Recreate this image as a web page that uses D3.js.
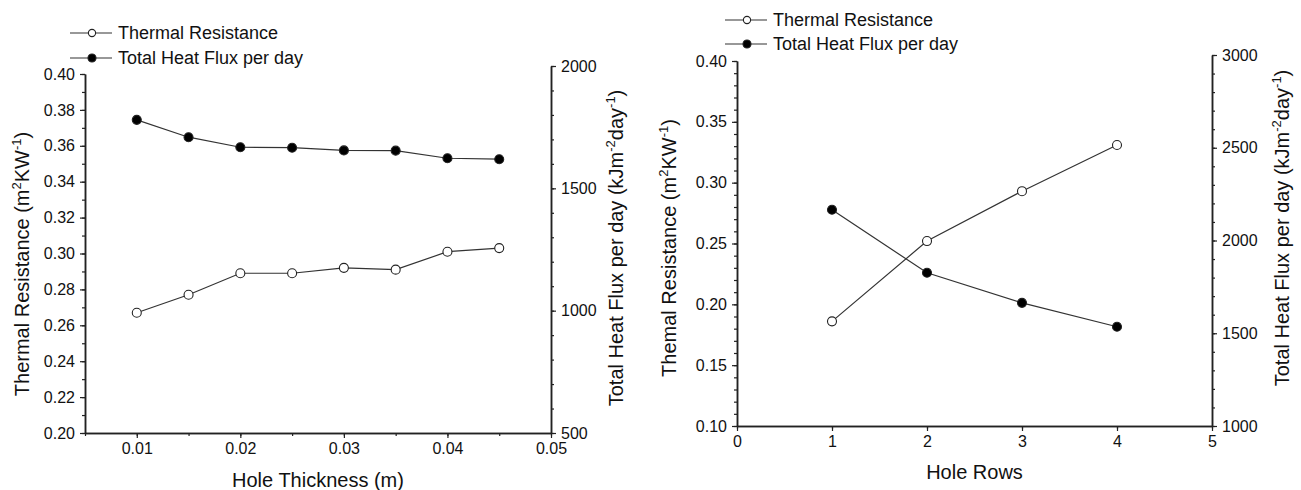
<!DOCTYPE html>
<html>
<head>
<meta charset="utf-8">
<script src="https://cdn.jsdelivr.net/npm/d3@7"></script>
<style>
body { margin: 0; background: #fff; }
svg text { font-family: "Liberation Sans", Arial, sans-serif; fill: #111; }
</style>
</head>
<body>
<svg id="chart" width="1301" height="490"></svg>
<script>
// panel A: hole thickness
let thicknessX = [0.010, 0.015, 0.020, 0.025, 0.030, 0.035, 0.040, 0.045];
let thicknessResistance = [0.267, 0.277, 0.289, 0.289, 0.292, 0.291, 0.301, 0.303];
let thicknessHeatFlux = [1780, 1709, 1668, 1666, 1655, 1654, 1623, 1619];
let thicknessTicks = [0.01, 0.02, 0.03, 0.04, 0.05];
let resistanceTicksA = [0.20, 0.22, 0.24, 0.26, 0.28, 0.30, 0.32, 0.34, 0.36, 0.38, 0.40];
let fluxTicksA = [500, 1000, 1500, 2000];

// panel B: hole rows
let rowsX = [1, 2, 3, 4];
let rowsResistance = [0.186, 0.252, 0.293, 0.331];
let rowsHeatFlux = [2166, 1826, 1664, 1535];
let rowsTicks = [0, 1, 2, 3, 4, 5];
let resistanceTicksB = [0.10, 0.15, 0.20, 0.25, 0.30, 0.35, 0.40];
let fluxTicksB = [1000, 1500, 2000, 2500, 3000];

let legendLabels = ["Thermal Resistance", "Total Heat Flux per day"];

let svg = d3.select('#chart');

function styleAxis(sel) {
    sel.select('.domain').attr('stroke', '#222').attr('stroke-width', 1.5);
    sel.selectAll('.tick line').attr('stroke', '#222').attr('stroke-width', 1.2);
    sel.selectAll('.tick text')
        .attr('font-family', '"Liberation Sans", Arial, sans-serif')
        .attr('font-size', 16)
        .attr('fill', '#111');
}

function drawAxis(axisFn, scale, major, minor, fmt, transform) {
    svg.append('g')
        .attr('transform', transform)
        .call(axisFn(scale).tickValues(minor).tickSize(3).tickSizeOuter(0).tickFormat(''))
        .call(styleAxis);
    svg.append('g')
        .attr('transform', transform)
        .call(axisFn(scale).tickValues(major).tickSize(5).tickSizeOuter(0).tickPadding(5).tickFormat(d3.format(fmt)))
        .call(styleAxis);
}

function addTitle(x, y, parts) {
    let t = svg.append('text')
        .attr('transform', 'translate(' + x + ',' + y + ') rotate(-90)')
        .attr('text-anchor', 'middle')
        .attr('font-size', 20);
    parts.forEach(function(p) {
        if (p.sup) {
            t.append('tspan').attr('font-size', 13).attr('dy', -8).text(p.sup);
            t.append('tspan').attr('dy', 8).text(p.text);
        } else {
            t.append('tspan').text(p.text);
        }
    });
}

function drawPanel(p) {
    let x = d3.scaleLinear().domain(p.xDomain).range([p.left, p.right]);
    let yL = d3.scaleLinear().domain(p.yLDomain).range([p.bottom, p.topL]);
    let yR = d3.scaleLinear().domain(p.yRDomain).range([p.bottom, p.topR]);

    drawAxis(d3.axisLeft, yL, p.yLTicks, p.yLMinor, '.2f', 'translate(' + p.left + ',0)');
    drawAxis(d3.axisRight, yR, p.yRTicks, p.yRMinor, 'd', 'translate(' + p.right + ',0)');
    drawAxis(d3.axisBottom, x, p.xTicks, p.xMinor, p.xFmt, 'translate(0,' + p.bottom + ')');

    // x title
    svg.append('text')
        .attr('x', (p.left + p.right) / 2)
        .attr('y', p.xTitleY)
        .attr('text-anchor', 'middle')
        .attr('font-size', 20)
        .text(p.xTitle);

    addTitle(p.yLTitleX, p.yLTitleY, [
        {text: p.yLTitle + ' (m'}, {sup: '2', text: 'KW'}, {sup: '-1', text: ')'}
    ]);
    addTitle(p.yRTitleX, p.yRTitleY, [
        {text: 'Total Heat Flux per day (kJm'}, {sup: '-2', text: 'day'}, {sup: '-1', text: ')'}
    ]);

    let line = d3.line()
        .x(function(d) { return x(d[0]); })
        .y(function(d) { return d[1]; });

    let res = p.xs.map(function(v, i) { return [v, yL(p.resistance[i])]; });
    let flux = p.xs.map(function(v, i) { return [v, yR(p.flux[i])]; });

    [[res, '#fff'], [flux, '#000']].forEach(function(s) {
        svg.append('path')
            .attr('d', line(s[0]))
            .attr('fill', 'none')
            .attr('stroke', '#333')
            .attr('stroke-width', 1.2);
        svg.append('g').selectAll('circle')
            .data(s[0])
            .enter()
            .append('circle')
            .attr('cx', function(d) { return x(d[0]); })
            .attr('cy', function(d) { return d[1]; })
            .attr('r', 4.5)
            .attr('fill', s[1])
            .attr('stroke', '#222')
            .attr('stroke-width', 1.1);
    });

    // legend
    legendLabels.forEach(function(lab, i) {
        let ly = p.legendY + i * p.legendGap;
        svg.append('line')
            .attr('x1', p.legendX).attr('x2', p.legendX + 42)
            .attr('y1', ly).attr('y2', ly)
            .attr('stroke', '#333').attr('stroke-width', 1.2);
        svg.append('circle')
            .attr('cx', p.legendX + 22).attr('cy', ly)
            .attr('r', i === 0 ? 3.6 : 4)
            .attr('fill', i === 0 ? '#fff' : '#000')
            .attr('stroke', '#222').attr('stroke-width', 1.1);
        svg.append('text')
            .attr('x', p.legendX + 48)
            .attr('y', ly + 6)
            .attr('font-size', 18)
            .text(lab);
    });
}

drawPanel({
    xs: thicknessX, resistance: thicknessResistance, flux: thicknessHeatFlux,
    xDomain: [0.005, 0.05], xTicks: thicknessTicks, xMinor: d3.range(0.005, 0.0501, 0.005), xFmt: '.2f',
    yLDomain: [0.20, 0.40], yLTicks: resistanceTicksA, yLMinor: d3.range(0.20, 0.4001, 0.01),
    yRDomain: [500, 2000], yRTicks: fluxTicksA, yRMinor: d3.range(500, 2001, 100),
    left: 85, right: 551, bottom: 433, topL: 74, topR: 66,
    xTitle: 'Hole Thickness (m)', xTitleY: 487,
    yLTitle: 'Thermal Resistance', yLTitleX: 29, yLTitleY: 264,
    yRTitleX: 623, yRTitleY: 248,
    legendX: 70, legendY: 33, legendGap: 25
});

drawPanel({
    xs: rowsX, resistance: rowsResistance, flux: rowsHeatFlux,
    xDomain: [0, 5], xTicks: rowsTicks, xMinor: rowsTicks, xFmt: 'd',
    yLDomain: [0.10, 0.40], yLTicks: resistanceTicksB, yLMinor: d3.range(0.10, 0.4001, 0.01),
    yRDomain: [1000, 3000], yRTicks: fluxTicksB, yRMinor: d3.range(1000, 3001, 100),
    left: 737, right: 1212, bottom: 426, topL: 61, topR: 55,
    xTitle: 'Hole Rows', xTitleY: 479,
    yLTitle: 'Themal Resistance', yLTitleX: 676, yLTitleY: 248,
    yRTitleX: 1289, yRTitleY: 228,
    legendX: 725, legendY: 20, legendGap: 24
});
</script>
</body>
</html>
